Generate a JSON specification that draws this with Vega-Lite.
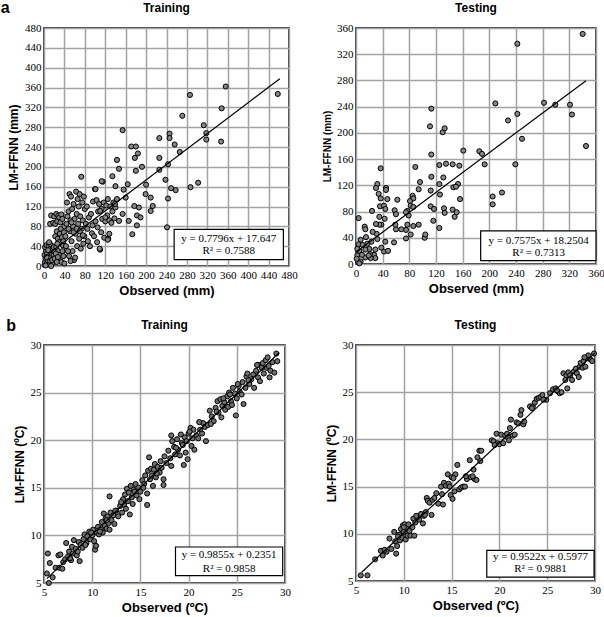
{
"$schema": "https://vega.github.io/schema/vega-lite/v6.json",
"padding": {"left": 0, "top": 0, "right": 4, "bottom": 0},
"config": {
  "view": {"stroke": "black", "strokeWidth": 1.5},
  "axis": {"grid": true, "gridColor": "#a3a3a3", "gridWidth": 1.5, "domain": false, "ticks": false, "labelFont": "Liberation Serif", "labelFontSize": 11, "labelColor": "black", "titleFont": "Liberation Sans", "titleFontWeight": "bold", "titleFontSize": 13, "titleColor": "black", "labelPadding": 3, "labelOverlap": false, "labelFlush": false},
  "title": {"font": "Liberation Sans", "fontSize": 12, "fontWeight": "bold", "color": "black", "offset": 7},
  "point": {"filled": true, "fill": "#858585", "stroke": "black", "strokeWidth": 1, "size": 26, "opacity": 1},
  "line": {"color": "black", "strokeWidth": 1.2}
},
"datasets": {
"ta": [
{"x":1,"y":2},{"x":2,"y":8},{"x":3,"y":15},{"x":1,"y":22},{"x":4,"y":30},{"x":2,"y":38},{"x":5,"y":42},{"x":6,"y":5},{"x":7,"y":12},{"x":8,"y":20},{"x":9,"y":27},{"x":10,"y":35},{"x":11,"y":3},{"x":12,"y":10},{"x":13,"y":18},{"x":14,"y":25},{"x":15,"y":32},{"x":16,"y":40},{"x":17,"y":6},{"x":18,"y":14},{"x":19,"y":22},{"x":20,"y":30},{"x":3,"y":1},{"x":6,"y":25},{"x":9,"y":40},{"x":12,"y":44},{"x":14,"y":0},{"x":5,"y":18},{"x":8,"y":32},{"x":16,"y":12},{"x":19,"y":38},{"x":10,"y":48},
{"x":12,"y":85},{"x":14,"y":102},{"x":18,"y":87},{"x":20,"y":100},{"x":22,"y":85},{"x":24,"y":105},{"x":26,"y":90},{"x":28,"y":102},{"x":30,"y":98},{"x":32,"y":88},{"x":34,"y":104},{"x":36,"y":95},{"x":22,"y":60},{"x":25,"y":70},{"x":27,"y":55},{"x":29,"y":48},{"x":31,"y":65},{"x":33,"y":75},{"x":35,"y":58},{"x":37,"y":42},{"x":39,"y":68},{"x":24,"y":38},{"x":26,"y":45},{"x":28,"y":30},{"x":30,"y":22},{"x":32,"y":15},{"x":34,"y":8},{"x":36,"y":30},{"x":38,"y":20},{"x":21,"y":15},{"x":23,"y":25},{"x":25,"y":8},{"x":27,"y":18},{"x":40,"y":5},{"x":38,"y":50},{"x":40,"y":80},
{"x":42,"y":60},{"x":44,"y":85},{"x":45,"y":128},{"x":46,"y":100},{"x":48,"y":110},{"x":50,"y":145},{"x":51,"y":70},{"x":52,"y":92},{"x":53,"y":140},{"x":54,"y":50},{"x":55,"y":115},{"x":56,"y":30},{"x":57,"y":80},{"x":58,"y":125},{"x":59,"y":12},{"x":60,"y":95},{"x":61,"y":17},{"x":62,"y":65},{"x":63,"y":150},{"x":64,"y":105},{"x":65,"y":40},{"x":66,"y":135},{"x":67,"y":85},{"x":68,"y":120},{"x":69,"y":55},{"x":70,"y":145},{"x":71,"y":100},{"x":72,"y":35},{"x":73,"y":180},{"x":74,"y":75},{"x":75,"y":128},{"x":76,"y":92},{"x":77,"y":45},{"x":78,"y":140},{"x":79,"y":60},{"x":80,"y":115},{"x":43,"y":40},{"x":47,"y":30},{"x":49,"y":20},{"x":52,"y":10},{"x":58,"y":68},{"x":64,"y":75},{"x":70,"y":70},{"x":76,"y":62},{"x":48,"y":75},{"x":54,"y":88},
{"x":82,"y":85},{"x":84,"y":120},{"x":86,"y":50},{"x":88,"y":98},{"x":90,"y":40},{"x":92,"y":105},{"x":94,"y":66},{"x":96,"y":130},{"x":98,"y":60},{"x":100,"y":155},{"x":101,"y":90},{"x":103,"y":133},{"x":104,"y":48},{"x":106,"y":110},{"x":108,"y":125},{"x":110,"y":33},{"x":112,"y":68},{"x":114,"y":95},{"x":115,"y":170},{"x":117,"y":128},{"x":118,"y":57},{"x":120,"y":90},{"x":122,"y":122},{"x":124,"y":102},{"x":126,"y":55},{"x":128,"y":92},{"x":130,"y":120},{"x":132,"y":87},{"x":134,"y":110},{"x":136,"y":128},{"x":138,"y":96},{"x":140,"y":118},{"x":85,"y":75},{"x":95,"y":82},{"x":105,"y":78},{"x":113,"y":115},{"x":125,"y":135},{"x":128,"y":65},
{"x":458,"y":347},{"x":356,"y":362},{"x":286,"y":345},{"x":348,"y":318},{"x":271,"y":303},{"x":313,"y":284},{"x":318,"y":268},{"x":318,"y":255},{"x":347,"y":251},{"x":266,"y":230},{"x":256,"y":245},{"x":246,"y":267},{"x":246,"y":258},{"x":226,"y":258},{"x":226,"y":218},{"x":226,"y":194},{"x":243,"y":205},{"x":238,"y":174},{"x":243,"y":136},{"x":241,"y":78},{"x":249,"y":157},{"x":258,"y":153},{"x":287,"y":159},{"x":302,"y":168},{"x":154,"y":274},{"x":171,"y":241},{"x":180,"y":241},{"x":184,"y":227},{"x":178,"y":218},{"x":143,"y":214},{"x":147,"y":196},{"x":134,"y":181},{"x":140,"y":161},{"x":180,"y":192},{"x":192,"y":200},{"x":200,"y":164},{"x":199,"y":145},{"x":209,"y":138},{"x":213,"y":121},{"x":209,"y":111},{"x":186,"y":118},{"x":177,"y":121},{"x":182,"y":102},{"x":182,"y":82},{"x":173,"y":64},{"x":189,"y":98},{"x":113,"y":171},{"x":101,"y":155},{"x":110,"y":111},{"x":109,"y":35},{"x":125,"y":53},{"x":164,"y":165},{"x":156,"y":154},{"x":160,"y":138},{"x":143,"y":135},{"x":139,"y":125},{"x":154,"y":105},{"x":166,"y":91},{"x":147,"y":91},{"x":120,"y":98}
],
"sa": [
{"x":340,"y":351},{"x":242,"y":336},{"x":345,"y":180},{"x":209,"y":245},{"x":228,"y":219},{"x":242,"y":229},{"x":249,"y":191},{"x":239,"y":152},{"x":282,"y":246},{"x":299,"y":243},{"x":321,"y":243},{"x":324,"y":228},{"x":205,"y":103},{"x":205,"y":91},{"x":219,"y":109},{"x":185,"y":172},{"x":189,"y":168},{"x":193,"y":152},{"x":161,"y":173},{"x":113,"y":237},{"x":111,"y":210},{"x":113,"y":167},{"x":130,"y":201},{"x":133,"y":207},{"x":125,"y":151},{"x":135,"y":153},{"x":145,"y":152},{"x":155,"y":150},{"x":156,"y":99},{"x":37,"y":146},{"x":89,"y":148},{"x":113,"y":133},{"x":131,"y":132},{"x":125,"y":122},{"x":153,"y":122},{"x":146,"y":117},{"x":150,"y":118},{"x":96,"y":125},{"x":94,"y":114},{"x":112,"y":112},{"x":126,"y":106},{"x":112,"y":88},{"x":117,"y":84},{"x":132,"y":85},{"x":133,"y":78},{"x":145,"y":83},{"x":148,"y":72},{"x":151,"y":79},{"x":116,"y":66},{"x":125,"y":55},{"x":103,"y":40},{"x":104,"y":45},{"x":94,"y":60},{"x":86,"y":58},{"x":85,"y":104},{"x":86,"y":100},{"x":81,"y":96},{"x":82,"y":89},{"x":86,"y":87},{"x":77,"y":81},{"x":79,"y":74},{"x":75,"y":79},{"x":77,"y":60},{"x":75,"y":52},{"x":75,"y":39},{"x":82,"y":45},{"x":68,"y":53},{"x":60,"y":53},{"x":57,"y":33},{"x":59,"y":60},{"x":62,"y":98},{"x":58,"y":82},{"x":60,"y":76},{"x":45,"y":116},{"x":45,"y":113},{"x":32,"y":122},{"x":30,"y":116},{"x":34,"y":107},{"x":47,"y":99},{"x":36,"y":88},{"x":37,"y":100},{"x":42,"y":89},{"x":44,"y":84},{"x":43,"y":69},{"x":35,"y":72},{"x":38,"y":60},{"x":35,"y":60},{"x":44,"y":34},{"x":42,"y":19},{"x":48,"y":20},{"x":24,"y":81},{"x":30,"y":61},{"x":31,"y":46},{"x":25,"y":49},{"x":32,"y":38},{"x":29,"y":22},{"x":38,"y":25},{"x":27,"y":14},{"x":29,"y":9},{"x":22,"y":9},{"x":13,"y":57},{"x":14,"y":53},{"x":4,"y":70},{"x":15,"y":41},{"x":23,"y":34},{"x":17,"y":31},{"x":20,"y":23},{"x":21,"y":15},{"x":14,"y":10},{"x":7,"y":37},{"x":4,"y":30},{"x":5,"y":20},{"x":2,"y":13},{"x":7,"y":4},{"x":3,"y":3},{"x":1,"y":8},{"x":10,"y":29},{"x":9,"y":14},{"x":14,"y":22},{"x":19,"y":13},{"x":2,"y":23},{"x":5,"y":1}
],
"tb": [
{"x":5.3,"y":6.0},{"x":5.4,"y":8.1},{"x":5.6,"y":7.1},{"x":5.5,"y":5.0},{"x":5.9,"y":5.6},{"x":6.2,"y":6.6},{"x":6.5,"y":7.9},{"x":6.7,"y":8.0},{"x":6.6,"y":6.6},{"x":7.0,"y":7.2},{"x":7.2,"y":7.5},{"x":7.3,"y":9.2},{"x":7.5,"y":7.8},{"x":7.6,"y":8.3},{"x":7.8,"y":7.4},{"x":7.9,"y":8.8},{"x":8.0,"y":8.1},{"x":8.1,"y":9.5},{"x":8.3,"y":8.6},{"x":8.4,"y":7.9},{"x":8.6,"y":9.3},{"x":8.7,"y":7.3},{"x":8.8,"y":9.0},{"x":9.0,"y":8.7},{"x":9.1,"y":9.6},{"x":9.2,"y":10.1},{"x":9.4,"y":9.2},{"x":9.5,"y":9.9},{"x":9.7,"y":10.4},{"x":9.8,"y":9.6},{"x":10.0,"y":10.0},{"x":10.1,"y":10.6},{"x":10.2,"y":9.4},{"x":10.3,"y":8.5},{"x":10.4,"y":8.9},{"x":10.5,"y":10.3},{"x":10.6,"y":10.9},{"x":10.7,"y":10.1},{"x":10.9,"y":10.6},{"x":11.0,"y":11.4},{"x":11.1,"y":10.3},{"x":11.2,"y":12.3},{"x":11.3,"y":11.0},{"x":11.4,"y":11.8},{"x":11.5,"y":10.7},{"x":11.6,"y":12.0},{"x":11.7,"y":11.3},{"x":11.8,"y":10.6},{"x":11.9,"y":12.4},{"x":12.0,"y":11.6},{"x":11.8,"y":14.1},{"x":12.2,"y":12.1},{"x":12.3,"y":11.2},{"x":12.5,"y":12.6},{"x":12.7,"y":12.0},{"x":12.9,"y":13.1},{"x":13.1,"y":12.4},{"x":13.2,"y":13.8},{"x":13.3,"y":13.2},{"x":13.4,"y":14.3},{"x":13.5,"y":12.8},{"x":13.6,"y":14.9},{"x":13.7,"y":13.6},{"x":13.8,"y":14.5},{"x":13.9,"y":12.2},{"x":14.0,"y":15.2},{"x":14.1,"y":14.0},{"x":14.2,"y":13.3},{"x":14.3,"y":14.8},{"x":14.5,"y":15.4},{"x":14.6,"y":14.2},{"x":14.8,"y":15.0},{"x":14.9,"y":13.8},{"x":15.0,"y":14.6},{"x":15.2,"y":15.8},{"x":15.4,"y":15.4},{"x":15.5,"y":16.3},{"x":15.7,"y":14.4},{"x":15.7,"y":13.2},{"x":15.8,"y":16.8},{"x":15.9,"y":18.2},{"x":16.0,"y":15.9},{"x":16.1,"y":17.0},{"x":16.2,"y":16.3},{"x":16.3,"y":15.2},{"x":16.4,"y":16.9},{"x":16.5,"y":17.5},{"x":16.6,"y":16.1},{"x":16.8,"y":17.2},{"x":17.0,"y":16.6},{"x":17.1,"y":17.8},{"x":17.4,"y":15.9},{"x":17.4,"y":15.3},{"x":17.5,"y":18.3},{"x":17.7,"y":17.6},{"x":17.9,"y":18.9},{"x":18.1,"y":18.1},{"x":18.2,"y":20.5},{"x":18.3,"y":19.9},{"x":18.2,"y":17.3},{"x":18.5,"y":19.3},{"x":18.6,"y":18.5},{"x":18.8,"y":20.1},{"x":18.9,"y":19.0},{"x":19.1,"y":18.4},{"x":19.2,"y":20.6},{"x":19.3,"y":19.7},{"x":19.5,"y":17.4},{"x":19.6,"y":20.3},{"x":19.7,"y":18.7},{"x":19.8,"y":19.9},{"x":19.9,"y":18.0},{"x":20.0,"y":20.7},{"x":20.2,"y":21.3},{"x":20.3,"y":19.4},{"x":20.4,"y":20.2},{"x":20.5,"y":21.1},{"x":20.6,"y":19.0},{"x":20.8,"y":20.5},{"x":21.0,"y":20.2},{"x":21.2,"y":21.1},{"x":21.4,"y":20.7},{"x":21.5,"y":21.8},{"x":21.7,"y":21.4},{"x":21.8,"y":19.9},{"x":22.0,"y":21.6},{"x":22.2,"y":23.1},{"x":22.4,"y":22.5},{"x":22.6,"y":22.0},{"x":22.8,"y":23.4},{"x":23.0,"y":24.1},{"x":23.1,"y":22.9},{"x":23.3,"y":24.3},{"x":23.4,"y":22.4},{"x":23.5,"y":23.6},{"x":23.7,"y":24.0},{"x":23.8,"y":23.2},{"x":24.0,"y":24.6},{"x":24.1,"y":23.5},{"x":24.2,"y":25.0},{"x":24.4,"y":24.1},{"x":24.5,"y":23.7},{"x":24.6,"y":25.5},{"x":24.8,"y":24.9},{"x":24.9,"y":22.6},{"x":25.0,"y":24.4},{"x":25.2,"y":25.7},{"x":25.3,"y":25.1},{"x":25.5,"y":24.8},{"x":25.6,"y":26.1},{"x":25.7,"y":23.8},{"x":25.9,"y":25.5},{"x":26.0,"y":26.7},{"x":26.1,"y":27.0},{"x":26.3,"y":25.9},{"x":26.5,"y":26.4},{"x":26.7,"y":26.9},{"x":26.8,"y":25.5},{"x":27.0,"y":27.3},{"x":27.2,"y":26.6},{"x":27.3,"y":27.9},{"x":27.4,"y":26.2},{"x":27.6,"y":27.6},{"x":27.7,"y":28.1},{"x":27.8,"y":27.0},{"x":28.0,"y":28.4},{"x":28.1,"y":27.6},{"x":28.2,"y":28.7},{"x":28.4,"y":26.6},{"x":28.5,"y":27.3},{"x":28.7,"y":28.2},{"x":28.9,"y":27.1},{"x":29.1,"y":29.1},{"x":29.2,"y":28.3},{"x":28.3,"y":27.8},{"x":27.1,"y":27.9},{"x":26.2,"y":26.3},{"x":25.1,"y":25.9},{"x":24.3,"y":24.8},{"x":23.6,"y":24.4},{"x":22.9,"y":23.0},{"x":22.3,"y":21.7},{"x":21.1,"y":21.9},{"x":20.1,"y":20.9},{"x":19.4,"y":19.5},{"x":18.7,"y":19.2},{"x":17.2,"y":17.1},{"x":16.7,"y":16.5},{"x":15.3,"y":15.0},{"x":14.4,"y":14.6},{"x":13.0,"y":13.5},{"x":12.4,"y":12.6},{"x":11.5,"y":11.6},{"x":10.8,"y":10.4},{"x":9.9,"y":10.3},{"x":9.3,"y":9.0},{"x":8.5,"y":8.3},{"x":7.7,"y":7.6},{"x":6.9,"y":6.5}
],
"sb": [
{"x":5.5,"y":5.6},{"x":6.2,"y":5.6},{"x":7.0,"y":7.3},{"x":7.6,"y":8.2},{"x":7.8,"y":7.7},{"x":8.2,"y":8.1},{"x":8.5,"y":9.5},{"x":8.7,"y":8.4},{"x":9.0,"y":10.2},{"x":9.1,"y":9.2},{"x":9.2,"y":7.9},{"x":9.3,"y":8.7},{"x":9.5,"y":9.9},{"x":9.6,"y":9.3},{"x":9.7,"y":10.5},{"x":9.8,"y":9.6},{"x":9.9,"y":10.9},{"x":10.0,"y":10.2},{"x":10.1,"y":11.0},{"x":10.2,"y":9.4},{"x":10.3,"y":10.6},{"x":10.4,"y":9.8},{"x":10.5,"y":11.0},{"x":10.6,"y":10.3},{"x":10.7,"y":9.8},{"x":10.9,"y":10.7},{"x":11.0,"y":11.6},{"x":11.1,"y":9.8},{"x":11.2,"y":11.2},{"x":11.4,"y":11.8},{"x":11.6,"y":11.5},{"x":11.8,"y":12.1},{"x":12.0,"y":11.1},{"x":12.1,"y":11.9},{"x":12.3,"y":12.3},{"x":12.4,"y":13.8},{"x":12.5,"y":13.5},{"x":12.7,"y":13.3},{"x":12.9,"y":12.0},{"x":13.0,"y":13.6},{"x":13.2,"y":13.8},{"x":13.4,"y":14.3},{"x":13.6,"y":13.2},{"x":13.9,"y":15.0},{"x":14.1,"y":13.1},{"x":14.2,"y":15.4},{"x":14.4,"y":15.1},{"x":14.6,"y":16.3},{"x":14.7,"y":15.3},{"x":14.8,"y":15.0},{"x":14.9,"y":14.1},{"x":15.0,"y":16.0},{"x":15.1,"y":13.7},{"x":15.3,"y":14.5},{"x":15.4,"y":16.3},{"x":15.6,"y":17.3},{"x":15.8,"y":14.7},{"x":16.0,"y":14.9},{"x":16.2,"y":15.0},{"x":16.4,"y":15.0},{"x":16.6,"y":15.8},{"x":16.9,"y":17.8},{"x":17.0,"y":16.0},{"x":17.3,"y":16.8},{"x":17.4,"y":15.8},{"x":17.6,"y":15.7},{"x":17.7,"y":18.1},{"x":17.9,"y":18.8},{"x":18.1,"y":18.8},{"x":17.2,"y":16.1},{"x":19.2,"y":19.9},{"x":19.4,"y":19.8},{"x":19.7,"y":20.6},{"x":19.8,"y":19.6},{"x":20.0,"y":19.5},{"x":20.2,"y":20.5},{"x":20.4,"y":19.6},{"x":20.6,"y":20.4},{"x":20.9,"y":20.2},{"x":21.0,"y":19.9},{"x":21.1,"y":21.2},{"x":21.2,"y":22.1},{"x":21.4,"y":20.4},{"x":21.6,"y":20.5},{"x":21.8,"y":21.8},{"x":22.0,"y":21.7},{"x":22.2,"y":22.6},{"x":22.3,"y":23.1},{"x":22.5,"y":21.6},{"x":22.6,"y":21.9},{"x":23.2,"y":23.5},{"x":23.5,"y":23.5},{"x":23.7,"y":23.9},{"x":23.9,"y":24.3},{"x":24.1,"y":24.4},{"x":24.3,"y":24.5},{"x":24.5,"y":24.7},{"x":24.9,"y":24.2},{"x":25.3,"y":24.9},{"x":25.6,"y":25.3},{"x":25.9,"y":25.4},{"x":26.1,"y":25.1},{"x":26.3,"y":24.9},{"x":26.5,"y":25.0},{"x":26.7,"y":27.0},{"x":26.9,"y":26.3},{"x":27.0,"y":26.8},{"x":27.1,"y":25.4},{"x":27.2,"y":27.1},{"x":27.4,"y":26.8},{"x":27.6,"y":26.3},{"x":27.8,"y":27.2},{"x":28.0,"y":27.5},{"x":28.1,"y":27.0},{"x":28.3,"y":26.6},{"x":28.4,"y":27.7},{"x":28.5,"y":28.1},{"x":28.7,"y":27.6},{"x":28.8,"y":28.3},{"x":29.0,"y":27.7},{"x":29.2,"y":28.6},{"x":29.3,"y":28.9},{"x":29.5,"y":28.5},{"x":29.7,"y":28.3},{"x":29.9,"y":29.1},{"x":28.9,"y":28.7},{"x":26.0,"y":25.2},{"x":24.6,"y":24.2},{"x":23.4,"y":23.3},{"x":20.8,"y":20.6},{"x":19.5,"y":19.4},{"x":18.0,"y":17.7},{"x":16.5,"y":16.1},{"x":15.2,"y":15.9},{"x":14.0,"y":14.2},{"x":12.2,"y":12.0},{"x":11.3,"y":11.9},{"x":10.0,"y":10.7},{"x":9.4,"y":9.7},{"x":8.0,"y":8.3}
]
},
"spacing": 20,
"vconcat": [
{
 "title": {"text": "a", "anchor": "start", "fontSize": 16, "fontWeight": "bold", "offset": -15, "dx": -6},
 "spacing": 23,
 "hconcat": [
 {
  "title": "Training", "width": 245, "height": 238,
  "layer": [
   {"data": {"name": "ta"}, "mark": "point",
    "encoding": {
     "x": {"field": "x", "type": "quantitative", "scale": {"domain": [0, 480], "nice": false}, "axis": {"values": [0,40,80,120,160,200,240,280,320,360,400,440,480], "title": "Observed (mm)"}},
     "y": {"field": "y", "type": "quantitative", "scale": {"domain": [0, 480], "nice": false}, "axis": {"values": [0,40,80,120,160,200,240,280,320,360,400,440,480], "title": "LM-FFNN (mm)", "titleFontSize": 12}}
    }},
   {"data": {"values": [{"x": 0, "y": 17.647}, {"x": 462, "y": 377.8}]}, "mark": "line",
    "encoding": {
     "x": {"field": "x", "type": "quantitative", "axis": {"values": [0,40,80,120,160,200,240,280,320,360,400,440,480], "title": "Observed (mm)"}},
     "y": {"field": "y", "type": "quantitative", "axis": {"values": [0,40,80,120,160,200,240,280,320,360,400,440,480], "title": "LM-FFNN (mm)", "titleFontSize": 12}}
    }},
   {"data": {"values": [{"eq": "y = 0.7796x + 17.647", "r2": "R² = 0.7588"}]}, "mark": {"type": "rect", "fill": "white", "stroke": "black", "strokeWidth": 1.2},
    "encoding": {
     "x": {"datum": 255, "type": "quantitative", "axis": {"values": [0,40,80,120,160,200,240,280,320,360,400,440,480], "title": "Observed (mm)"}}, "x2": {"datum": 469},
     "y": {"datum": 74, "type": "quantitative", "axis": {"values": [0,40,80,120,160,200,240,280,320,360,400,440,480], "title": "LM-FFNN (mm)", "titleFontSize": 12}}, "y2": {"datum": 13}}},
   {"data": {"values": [{"eq": "y = 0.7796x + 17.647", "r2": "R² = 0.7588"}]}, "mark": {"type": "text", "font": "Liberation Serif", "fontSize": 11, "baseline": "middle"},
    "encoding": {
     "x": {"datum": 362, "type": "quantitative", "axis": {"values": [0,40,80,120,160,200,240,280,320,360,400,440,480], "title": "Observed (mm)"}},
     "y": {"datum": 55, "type": "quantitative", "axis": {"values": [0,40,80,120,160,200,240,280,320,360,400,440,480], "title": "LM-FFNN (mm)", "titleFontSize": 12}}, "text": {"field": "eq"}}},
   {"data": {"values": [{"eq": "y = 0.7796x + 17.647", "r2": "R² = 0.7588"}]}, "mark": {"type": "text", "font": "Liberation Serif", "fontSize": 11, "baseline": "middle"},
    "encoding": {
     "x": {"datum": 362, "type": "quantitative", "axis": {"values": [0,40,80,120,160,200,240,280,320,360,400,440,480], "title": "Observed (mm)"}},
     "y": {"datum": 31, "type": "quantitative", "axis": {"values": [0,40,80,120,160,200,240,280,320,360,400,440,480], "title": "LM-FFNN (mm)", "titleFontSize": 12}}, "text": {"field": "r2"}}}
  ]
 },
 {
  "title": "Testing", "width": 240, "height": 236,
  "layer": [
   {"data": {"name": "sa"}, "mark": "point",
    "encoding": {
     "x": {"field": "x", "type": "quantitative", "scale": {"domain": [0, 360], "nice": false}, "axis": {"values": [0,40,80,120,160,200,240,280,320,360], "title": "Observed (mm)"}},
     "y": {"field": "y", "type": "quantitative", "scale": {"domain": [0, 360], "nice": false}, "axis": {"values": [0,40,80,120,160,200,240,280,320,360], "title": "LM-FFNN (mm)", "titleFontSize": 10}}
    }},
   {"data": {"values": [{"x": 0, "y": 18.25}, {"x": 345, "y": 279.6}]}, "mark": "line",
    "encoding": {
     "x": {"field": "x", "type": "quantitative", "axis": {"values": [0,40,80,120,160,200,240,280,320,360], "title": "Observed (mm)"}},
     "y": {"field": "y", "type": "quantitative", "axis": {"values": [0,40,80,120,160,200,240,280,320,360], "title": "LM-FFNN (mm)", "titleFontSize": 10}}
    }},
   {"data": {"values": [{"eq": "y = 0.7575x + 18.2504", "r2": "R² = 0.7313"}]}, "mark": {"type": "rect", "fill": "white", "stroke": "black", "strokeWidth": 1.2},
    "encoding": {
     "x": {"datum": 187, "type": "quantitative", "axis": {"values": [0,40,80,120,160,200,240,280,320,360], "title": "Observed (mm)"}}, "x2": {"datum": 360},
     "y": {"datum": 50.5, "type": "quantitative", "axis": {"values": [0,40,80,120,160,200,240,280,320,360], "title": "LM-FFNN (mm)", "titleFontSize": 10}}, "y2": {"datum": 5}}},
   {"data": {"values": [{"eq": "y = 0.7575x + 18.2504", "r2": "R² = 0.7313"}]}, "mark": {"type": "text", "font": "Liberation Serif", "fontSize": 11, "baseline": "middle"},
    "encoding": {
     "x": {"datum": 274, "type": "quantitative", "axis": {"values": [0,40,80,120,160,200,240,280,320,360], "title": "Observed (mm)"}},
     "y": {"datum": 35, "type": "quantitative", "axis": {"values": [0,40,80,120,160,200,240,280,320,360], "title": "LM-FFNN (mm)", "titleFontSize": 10}}, "text": {"field": "eq"}}},
   {"data": {"values": [{"eq": "y = 0.7575x + 18.2504", "r2": "R² = 0.7313"}]}, "mark": {"type": "text", "font": "Liberation Serif", "fontSize": 11, "baseline": "middle"},
    "encoding": {
     "x": {"datum": 274, "type": "quantitative", "axis": {"values": [0,40,80,120,160,200,240,280,320,360], "title": "Observed (mm)"}},
     "y": {"datum": 17, "type": "quantitative", "axis": {"values": [0,40,80,120,160,200,240,280,320,360], "title": "LM-FFNN (mm)", "titleFontSize": 10}}, "text": {"field": "r2"}}}
  ]
 }
 ]
},
{
 "title": {"text": "b", "anchor": "start", "fontSize": 16, "fontWeight": "bold", "offset": -16, "dx": -6},
 "spacing": 32,
 "hconcat": [
 {
  "title": "Training", "width": 241, "height": 238,
  "layer": [
   {"data": {"name": "tb"}, "mark": {"type": "point", "fill": "#6f6f6f"},
    "encoding": {
     "x": {"field": "x", "type": "quantitative", "scale": {"domain": [5, 30], "nice": false, "zero": false}, "axis": {"values": [5,10,15,20,25,30], "title": "Observed (ºC)"}},
     "y": {"field": "y", "type": "quantitative", "scale": {"domain": [5, 30], "nice": false, "zero": false}, "axis": {"values": [5,10,15,20,25,30], "title": "LM-FFNN (ºC)", "titleFontSize": 12}}
    }},
   {"data": {"values": [{"x": 5.3, "y": 5.458}, {"x": 29.4, "y": 29.21}]}, "mark": "line",
    "encoding": {
     "x": {"field": "x", "type": "quantitative", "axis": {"values": [5,10,15,20,25,30], "title": "Observed (ºC)"}},
     "y": {"field": "y", "type": "quantitative", "axis": {"values": [5,10,15,20,25,30], "title": "LM-FFNN (ºC)", "titleFontSize": 12}}
    }},
   {"data": {"values": [{"eq": "y = 0.9855x + 0.2351", "r2": "R² = 0.9858"}]}, "mark": {"type": "rect", "fill": "white", "stroke": "black", "strokeWidth": 1.2},
    "encoding": {
     "x": {"datum": 18.64, "type": "quantitative", "axis": {"values": [5,10,15,20,25,30], "title": "Observed (ºC)"}}, "x2": {"datum": 29.76},
     "y": {"datum": 8.78, "type": "quantitative", "axis": {"values": [5,10,15,20,25,30], "title": "LM-FFNN (ºC)", "titleFontSize": 12}}, "y2": {"datum": 5.77}}},
   {"data": {"values": [{"eq": "y = 0.9855x + 0.2351", "r2": "R² = 0.9858"}]}, "mark": {"type": "text", "font": "Liberation Serif", "fontSize": 11, "baseline": "middle"},
    "encoding": {
     "x": {"datum": 24.2, "type": "quantitative", "axis": {"values": [5,10,15,20,25,30], "title": "Observed (ºC)"}},
     "y": {"datum": 7.9, "type": "quantitative", "axis": {"values": [5,10,15,20,25,30], "title": "LM-FFNN (ºC)", "titleFontSize": 12}}, "text": {"field": "eq"}}},
   {"data": {"values": [{"eq": "y = 0.9855x + 0.2351", "r2": "R² = 0.9858"}]}, "mark": {"type": "text", "font": "Liberation Serif", "fontSize": 11, "baseline": "middle"},
    "encoding": {
     "x": {"datum": 24.2, "type": "quantitative", "axis": {"values": [5,10,15,20,25,30], "title": "Observed (ºC)"}},
     "y": {"datum": 6.45, "type": "quantitative", "axis": {"values": [5,10,15,20,25,30], "title": "LM-FFNN (ºC)", "titleFontSize": 12}}, "text": {"field": "r2"}}}
  ]
 },
 {
  "title": "Testing", "width": 239, "height": 236,
  "layer": [
   {"data": {"name": "sb"}, "mark": {"type": "point", "fill": "#6f6f6f"},
    "encoding": {
     "x": {"field": "x", "type": "quantitative", "scale": {"domain": [5, 30], "nice": false, "zero": false}, "axis": {"values": [5,10,15,20,25,30], "title": "Observed (ºC)"}},
     "y": {"field": "y", "type": "quantitative", "scale": {"domain": [5, 30], "nice": false, "zero": false}, "axis": {"values": [5,10,15,20,25,30], "title": "LM-FFNN (ºC)", "titleFontSize": 12}}
    }},
   {"data": {"values": [{"x": 5.6, "y": 5.93}, {"x": 30, "y": 29.16}]}, "mark": "line",
    "encoding": {
     "x": {"field": "x", "type": "quantitative", "axis": {"values": [5,10,15,20,25,30], "title": "Observed (ºC)"}},
     "y": {"field": "y", "type": "quantitative", "axis": {"values": [5,10,15,20,25,30], "title": "LM-FFNN (ºC)", "titleFontSize": 12}}
    }},
   {"data": {"values": [{"eq": "y = 0.9522x + 0.5977", "r2": "R² = 0.9881"}]}, "mark": {"type": "rect", "fill": "white", "stroke": "black", "strokeWidth": 1.2},
    "encoding": {
     "x": {"datum": 18.68, "type": "quantitative", "axis": {"values": [5,10,15,20,25,30], "title": "Observed (ºC)"}}, "x2": {"datum": 29.9},
     "y": {"datum": 8.25, "type": "quantitative", "axis": {"values": [5,10,15,20,25,30], "title": "LM-FFNN (ºC)", "titleFontSize": 12}}, "y2": {"datum": 5.42}}},
   {"data": {"values": [{"eq": "y = 0.9522x + 0.5977", "r2": "R² = 0.9881"}]}, "mark": {"type": "text", "font": "Liberation Serif", "fontSize": 11, "baseline": "middle"},
    "encoding": {
     "x": {"datum": 24.3, "type": "quantitative", "axis": {"values": [5,10,15,20,25,30], "title": "Observed (ºC)"}},
     "y": {"datum": 7.54, "type": "quantitative", "axis": {"values": [5,10,15,20,25,30], "title": "LM-FFNN (ºC)", "titleFontSize": 12}}, "text": {"field": "eq"}}},
   {"data": {"values": [{"eq": "y = 0.9522x + 0.5977", "r2": "R² = 0.9881"}]}, "mark": {"type": "text", "font": "Liberation Serif", "fontSize": 11, "baseline": "middle"},
    "encoding": {
     "x": {"datum": 24.3, "type": "quantitative", "axis": {"values": [5,10,15,20,25,30], "title": "Observed (ºC)"}},
     "y": {"datum": 6.24, "type": "quantitative", "axis": {"values": [5,10,15,20,25,30], "title": "LM-FFNN (ºC)", "titleFontSize": 12}}, "text": {"field": "r2"}}}
  ]
 }
 ]
}
]
}
